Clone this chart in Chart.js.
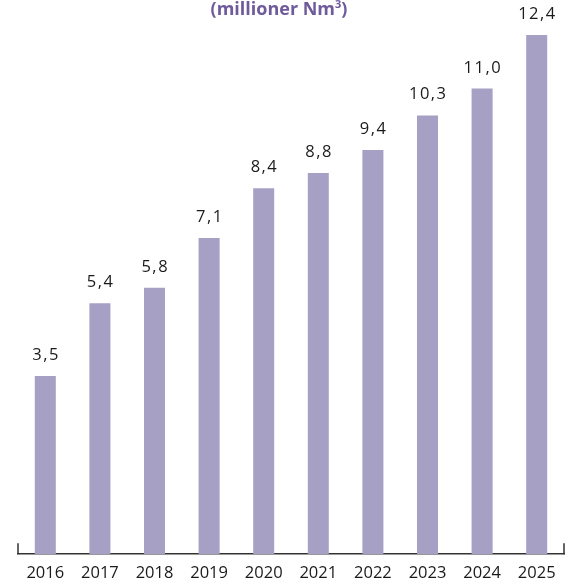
<!DOCTYPE html>
<html>
<head>
<meta charset="utf-8">
<script src="https://cdn.jsdelivr.net/npm/chart.js@4"></script>
<style>
  html, body { margin: 0; padding: 0; background: #fff; }
  #wrap { position: relative; width: 569px; height: 585px; overflow: hidden; }
  #inner { position: absolute; left: 0; top: 0; width: 569px; height: 596px; }
  #title { position: absolute; top: -2px; left: 159px; width: 240px; text-align: center;
           font-family: "Open Sans", sans-serif; font-weight: 700; font-size: 18px; line-height: 20px; color: #6f5b9c; }
  #title sup { font-size: 11px; vertical-align: 7px; line-height: 0; }
</style>
</head>
<body>
<div id="wrap">
  <div id="inner"><canvas id="c"></canvas></div>
  <div id="title">(millioner Nm<sup>3</sup>)</div>
</div>
<script>
const years = ["2016","2017","2018","2019","2020","2021","2022","2023","2024","2025"];
const volumes = [3.5, 5.4, 5.8, 7.1, 8.4, 8.8, 9.4, 10.3, 11.0, 12.4];
const valueLabels = ["3,5","5,4","5,8","7,1","8,4","8,8","9,4","10,3","11,0","12,4"];

const scaleMin = -1.15;
const scaleMax = 12.79;

const barLabels = {
  id: 'barLabels',
  afterDatasetsDraw(chart) {
    const ctx = chart.ctx;
    const meta = chart.getDatasetMeta(0);
    ctx.save();
    ctx.font = '16.5px "Open Sans", sans-serif';
    ctx.fillStyle = '#1a1a1a';
    ctx.textAlign = 'center';
    ctx.textBaseline = 'alphabetic';
    try { ctx.letterSpacing = '1.5px'; } catch (e) {}
    meta.data.forEach((bar, i) => {
      ctx.fillText(valueLabels[i], bar.x + 0.75, bar.y - 16);
    });
    ctx.restore();
  }
};

const axisCaps = {
  id: 'axisCaps',
  afterDraw(chart) {
    const { ctx, chartArea } = chart;
    ctx.save();
    ctx.strokeStyle = '#333';
    ctx.lineWidth = 1.5;
    ctx.beginPath();
    ctx.moveTo(chartArea.left, chartArea.bottom);
    ctx.lineTo(chartArea.left, chartArea.bottom - 11);
    ctx.moveTo(chartArea.right, chartArea.bottom);
    ctx.lineTo(chartArea.right, chartArea.bottom - 11);
    ctx.stroke();
    ctx.restore();
  }
};

new Chart(document.getElementById('c'), {
  type: 'bar',
  data: {
    labels: years,
    datasets: [{
      data: volumes,
      base: scaleMin,
      backgroundColor: '#a5a0c4',
      borderWidth: 0,
      barPercentage: 0.385,
      categoryPercentage: 1.0
    }]
  },
  options: {
    responsive: true,
    maintainAspectRatio: false,
    animation: false,
    layout: { padding: { left: 18, right: 5, top: 20, bottom: 4 } },
    plugins: { legend: { display: false }, tooltip: { enabled: false }, title: { display: false } },
    scales: {
      x: {
        grid: { display: false, drawTicks: false },
        border: { display: true, color: '#333', width: 1.5 },
        ticks: { color: '#1a1a1a', font: { family: '"Open Sans", sans-serif', size: 16.5 }, padding: 9, maxRotation: 0, autoSkip: false }
      },
      y: {
        display: false,
        min: scaleMin,
        max: scaleMax
      }
    }
  },
  plugins: [barLabels, axisCaps]
});
</script>
</body>
</html>
